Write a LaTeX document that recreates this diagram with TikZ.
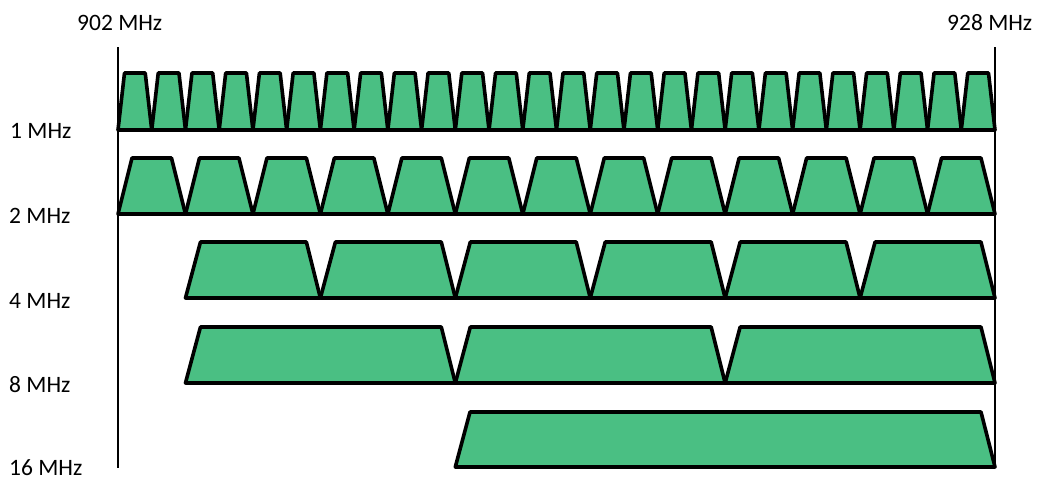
\documentclass[tikz,border=0pt]{standalone}
\usepackage{fontspec}
\setmainfont{Carlito}
\definecolor{chanfill}{RGB}{74,191,131}
\begin{document}
\begin{tikzpicture}[x=1pt,y=-1pt,
  chan/.style={fill=chanfill,draw=black,line width=3.6pt,line join=round},
  axis/.style={draw=black,line width=2.6pt},
  lbl/.style={font=\fontsize{23.5}{28}\selectfont,inner sep=0pt,anchor=base west}]
\useasboundingbox (0,0) rectangle (1039,479);
% frequency limits
\coordinate (L0) at (118,47);
\coordinate (L1) at (118,468);
\coordinate (R0) at (995,47);
\coordinate (R1) at (995,468);
\draw[axis] (L0) -- (L1);
\draw[axis] (R0) -- (R1);
\node[lbl] (f902) at (77,30) {902 MHz};
\node[lbl] (f928) at (947,30) {928 MHz};
% row labels
\node[lbl] (r1) at (10,138) {1 MHz};
\node[lbl] (r2) at (9,223) {2 MHz};
\node[lbl] (r4) at (9,308) {4 MHz};
\node[lbl] (r8) at (9,392) {8 MHz};
\node[lbl] (r16) at (9,475) {16 MHz};
% 1 MHz channels
\foreach \i in {0,...,25} {
  \pgfmathsetmacro\a{118+\i*33.731}
  \draw[chan] (\a,130) -- (\a+6.5,73) -- (\a+33.731-6.5,73) -- (\a+33.731,130) -- cycle;
}
% 2 MHz channels
\foreach \i in {0,...,12} {
  \pgfmathsetmacro\a{118+\i*67.462}
  \draw[chan] (\a,214) -- (\a+14,158) -- (\a+67.462-14,158) -- (\a+67.462,214) -- cycle;
}
% 4 MHz channels
\foreach \i in {0,...,5} {
  \pgfmathsetmacro\a{185.46+\i*134.923}
  \draw[chan] (\a,298) -- (\a+15,242) -- (\a+134.923-14,242) -- (\a+134.923,298) -- cycle;
}
% 8 MHz channels
\foreach \i in {0,...,2} {
  \pgfmathsetmacro\a{185.46+\i*269.846}
  \draw[chan] (\a,383) -- (\a+15,327) -- (\a+269.846-14,327) -- (\a+269.846,383) -- cycle;
}
% 16 MHz channel
\draw[chan] (455.3,467) -- (470,412) -- (981,412) -- (995,467) -- cycle;
\end{tikzpicture}
\end{document}
